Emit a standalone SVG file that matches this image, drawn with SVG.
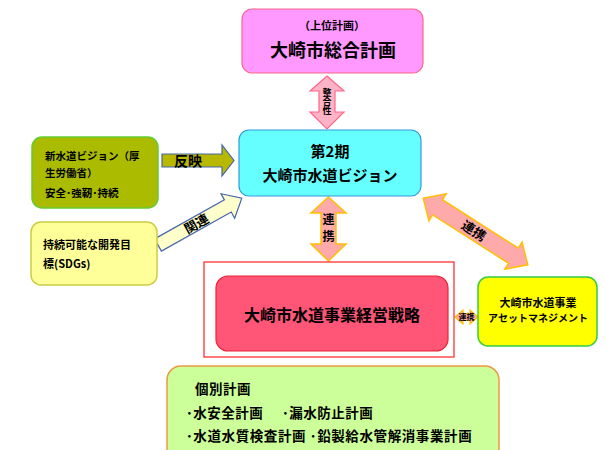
<svg xmlns="http://www.w3.org/2000/svg" width="607" height="450" viewBox="0 0 607 450">
<style>
text{font-family:"Noto Sans CJK JP","Noto Sans",sans-serif;font-weight:bold;fill:#000}
.c{text-anchor:middle}
.v{writing-mode:vertical-rl;text-orientation:upright;text-anchor:middle}
</style>
<rect width="607" height="450" fill="#fff"/>
<g id="connectors">
  <g id="arrow-seigousei">
    <path d="M327,76 L344,91 L335,91 L335,112 L344,112 L327,129 L310,112 L319,112 L319,91 L310,91 Z" fill="#ffb3c6" stroke="#ff6688" stroke-width="1.2"/>
    <text class="v" x="327" y="102" font-size="9">整合性</text>
  </g>
  <g id="arrow-renkei-v">
    <path d="M328.5,197 L346,213 L336,213 L336,244 L346,244 L328.5,261 L311,244 L321,244 L321,213 L311,213 Z" fill="#ffaaaa" stroke="#ffc000" stroke-width="1.5"/>
    <text class="v" x="328.5" y="230" font-size="12" letter-spacing="5">連携</text>
  </g>
  <g id="arrow-renkei-diag" transform="translate(475.5,231.5) rotate(32.5)">
    <path d="M-62,0 L-45,-16 L-45,-9 L45,-9 L45,-16 L62,0 L45,16 L45,9 L-45,9 L-45,16 Z" fill="#ffaaaa" stroke="#ffc000" stroke-width="1.5"/>
    <text class="c" x="-2" y="5" font-size="13">連携</text>
  </g>
  <g id="arrow-renkei-h">
    <path d="M455,317 L463,310 L463,313.5 L470,313.5 L470,310 L478,317 L470,324 L470,320.5 L463,320.5 L463,324 Z" fill="#ffaaaa" stroke="#ffc000" stroke-width="1.2"/>
    <text class="c" x="466.5" y="320" font-size="8">連携</text>
  </g>
  <g id="arrow-hanei">
    <path d="M162,154 L222,154 L222,145 L234,160.5 L222,176 L222,167 L162,167 Z" fill="#b8b800" stroke="#4466aa" stroke-width="1.2"/>
    <text x="174" y="166" font-size="14">反映</text>
  </g>
  <g id="arrow-kanren" transform="translate(158,245) rotate(-29.2)">
    <path d="M0,-7 L80,-7 L80,-14 L96,0 L80,14 L80,7 L0,7 Z" fill="#ffffcc" stroke="#4466aa" stroke-width="1.2"/>
    <text class="c" x="44" y="5" font-size="13">関連</text>
  </g>
</g>
<g id="node-sougou">
  <rect x="242" y="9" width="181" height="64" rx="10" fill="#ff99ff" stroke="#ff6688" stroke-width="1.2"/>
  <text class="c" x="332" y="30" font-size="11">（上位計画）</text>
  <text class="c" x="333" y="57" font-size="18">大崎市総合計画</text>
</g>
<g id="node-vision">
  <rect x="239" y="130" width="182" height="66" rx="10" fill="#66ffff" stroke="#3399dd" stroke-width="1.2"/>
  <text class="c" x="330" y="157" font-size="15">第2期</text>
  <text class="c" x="330" y="181" font-size="15">大崎市水道ビジョン</text>
</g>
<g id="node-shinsuidou">
  <rect x="32" y="137" width="126" height="71" rx="10" fill="#aabb00" stroke="#66cc33" stroke-width="1.5"/>
  <text x="45" y="160" font-size="10.5">新水道ビジョン（厚</text>
  <text x="45" y="177" font-size="10.5">生労働省）</text>
  <text x="45" y="197" font-size="10.5">安全･強靭･持続</text>
</g>
<g id="node-sdgs">
  <rect x="31" y="222" width="126" height="63" rx="10" fill="#ffff99" stroke="#cccc44" stroke-width="1.5"/>
  <text x="43" y="249" font-size="11">持続可能な開発目</text>
  <text x="43" y="268" font-size="11">標(SDGs)</text>
</g>
<g id="node-keiei">
  <rect x="204" y="262" width="250" height="95" fill="none" stroke="#ff2222" stroke-width="1.2"/>
  <rect x="216" y="276" width="232" height="75" rx="12" fill="#ff5577" stroke="#ee2233" stroke-width="1.2"/>
  <text class="c" x="332" y="321" font-size="16">大崎市水道事業経営戦略</text>
</g>
<g id="node-asset">
  <rect x="478" y="277" width="119" height="69" rx="10" fill="#ffff00" stroke="#33cc44" stroke-width="1.5"/>
  <text class="c" x="538" y="307" font-size="11">大崎市水道事業</text>
  <text class="c" x="538" y="322" font-size="10">アセットマネジメント</text>
</g>
<g id="node-kobetsu">
  <rect x="167" y="366" width="332" height="100" rx="14" fill="#ccff99" stroke="#ee9944" stroke-width="1.5"/>
  <text x="195" y="394" font-size="13.5" letter-spacing="0.5">個別計画</text>
  <text x="186" y="418" font-size="13.5" letter-spacing="0.5">･水安全計画</text>
  <text x="282" y="418" font-size="13.5" letter-spacing="0.5">･漏水防止計画</text>
  <text x="186" y="441" font-size="13.5" letter-spacing="0.6">･水道水質検査計画 ･鉛製給水管解消事業計画</text>
</g>
</svg>
